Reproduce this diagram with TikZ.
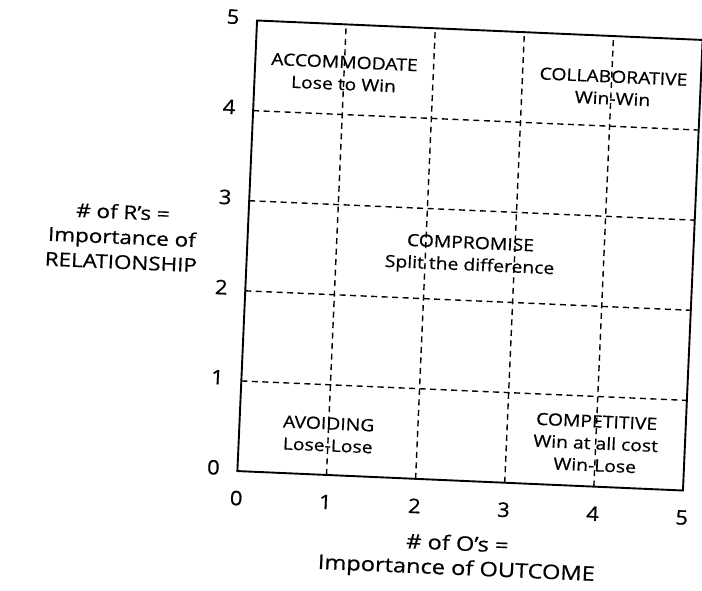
\documentclass[tikz,border=0pt]{standalone}
\usepackage{fontspec}
\setmainfont{Open Sans}[FakeBold=0.6]
\begin{document}
\begin{tikzpicture}[x=1pt,y=-1pt,
  boxline/.style={line width=1.9pt},
  gridline/.style={line width=1.4pt, dash pattern=on 6pt off 4.5pt},
  quad/.style={align=center, font=\fontsize{16.8}{22}\selectfont, xscale=1.15, inner sep=0pt},
  axlabel/.style={align=center, font=\fontsize{19}{25}\selectfont, xscale=1.18, inner sep=0pt},
  tick/.style={font=\fontsize{20}{24}\selectfont, xscale=1.1, inner sep=0pt}]
\useasboundingbox (0,0) rectangle (702,590);
\begin{scope}[rotate around={-2.5:(470,255.5)}]
\begin{scope}[shift={(247,481)}, x=89.2pt, y=90.2pt, transform shape]
  % grid
  \foreach \k in {1,2,3,4}{
    \draw[gridline] (\k,0) -- (\k,5);
    \draw[gridline] (0,\k) -- (5,\k);
  }
  \draw[boxline] (0,0) rectangle (5,5);
  % tick labels
  \foreach \k in {0,...,5}{
    \node[tick] (y\k) at (-0.27,\k+0.03) {\k};
    \node[tick] (x\k) at (\k,-0.30) {\k};
  }
  % quadrant texts
  \node[quad] (acc) at (1.0,4.46) {ACCOMMODATE\\Lose to Win};
  \node[quad] (col) at (4.02,4.43) {COLLABORATIVE\\Win-Win};
  \node[quad] (com) at (2.5,2.5) {COMPROMISE\\Split the difference};
  \node[quad] (avo) at (1.0,0.45) {AVOIDING\\Lose-Lose};
  \node[quad] (cpt) at (4.0,0.48) {COMPETITIVE\\Win at all cost\\Win-Lose};
  % axis titles
  \node[axlabel] (ylab) at (-1.407,2.54) {\# of R's =\\Importance of\\RELATIONSHIP};
  \node[axlabel, font=\fontsize{20}{24.5}\selectfont] (xlab) at (2.5,-0.85) {\# of O's =\\Importance of OUTCOME};
\end{scope}
\end{scope}
\end{tikzpicture}
\end{document}
